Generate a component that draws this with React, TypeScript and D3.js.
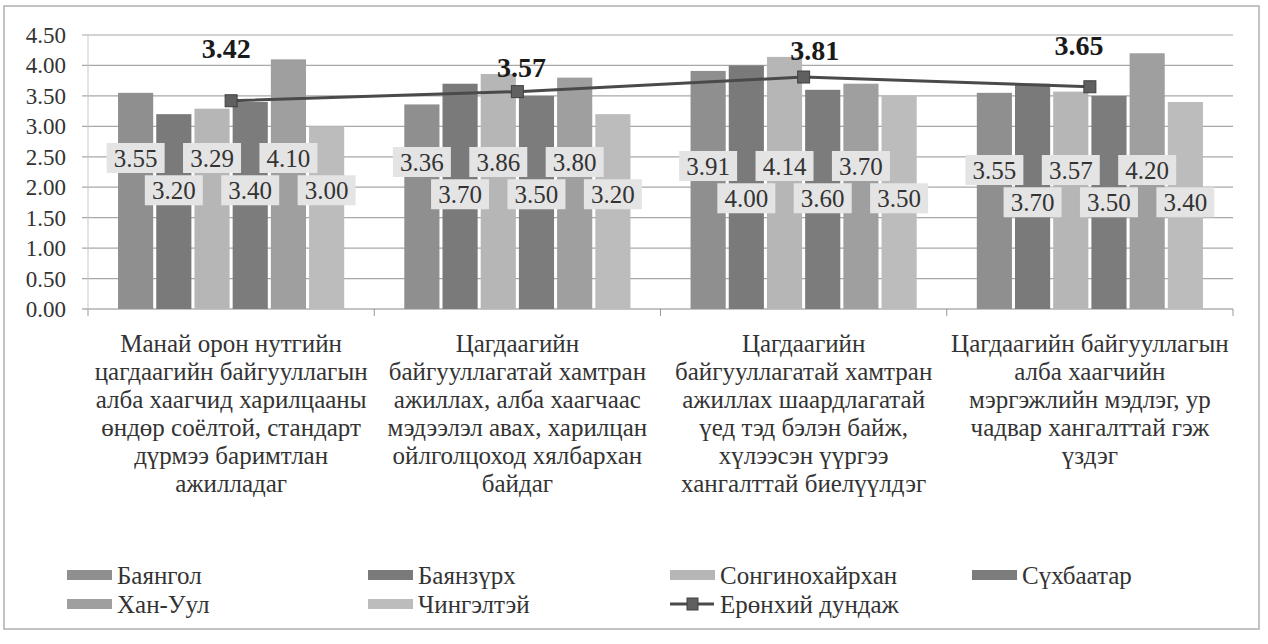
import React from "react";
import * as d3 from "d3";

const categories = [
  "Манай орон нутгийн\nцагдаагийн байгууллагын\nалба хаагчид харилцааны\nөндөр соёлтой, стандарт\nдүрмээ баримтлан\nажилладаг",
  "Цагдаагийн\nбайгууллагатай хамтран\nажиллах, алба хаагчаас\nмэдээлэл авах, харилцан\nойлголцоход хялбархан\nбайдаг",
  "Цагдаагийн\nбайгууллагатай хамтран\nажиллах шаардлагатай\nүед тэд бэлэн байж,\nхүлээсэн үүргээ\nхангалттай биелүүлдэг",
  "Цагдаагийн байгууллагын\nалба хаагчийн\nмэргэжлийн мэдлэг, ур\nчадвар хангалттай гэж\nүздэг",
];

const seriesNames = ["Баянгол", "Баянзүрх", "Сонгинохайрхан", "Сүхбаатар", "Хан-Уул", "Чингэлтэй"];
const bayangol = [3.55, 3.36, 3.91, 3.55];
const bayanzurkh = [3.2, 3.7, 4.0, 3.7];
const songinokhairkhan = [3.29, 3.86, 4.14, 3.57];
const sukhbaatar = [3.4, 3.5, 3.6, 3.5];
const khanUul = [4.1, 3.8, 3.7, 4.2];
const chingeltei = [3.0, 3.2, 3.5, 3.4];
const averageName = "Ерөнхий дундаж";
const average = [3.42, 3.57, 3.81, 3.65];
const yTickValues = [0, 0.5, 1, 1.5, 2, 2.5, 3, 3.5, 4, 4.5];

const seriesValues = [bayangol, bayanzurkh, songinokhairkhan, sukhbaatar, khanUul, chingeltei];
const seriesColors = ["#8f8f8f", "#7a7a7a", "#b6b6b6", "#7c7c7c", "#9f9f9f", "#bcbcbc"];

// layout-only tweaks for the manually placed average labels (pixels)
const avgLabelDx = [-5, 4, 11, -11];
const avgLabelDy = [-53, -24, -27, -42];

const FONT = "Liberation Serif";

export default function App() {
  const W = 1268;
  const H = 644;
  const plotLeft = 88;
  const plotRight = 1233;
  const y = d3.scaleLinear().domain([0, 4.5]).range([309, 35]);
  const x0 = d3
    .scaleBand<number>()
    .domain(d3.range(categories.length))
    .range([plotLeft, plotRight])
    .paddingInner(0.21)
    .paddingOuter(0.105);
  const x1 = d3
    .scaleBand<number>()
    .domain(d3.range(seriesNames.length))
    .range([0, x0.bandwidth()])
    .paddingInner(0.08);

  const line = d3
    .line<number>()
    .x((_, i) => (x0(i) as number) + x0.bandwidth() / 2)
    .y((d) => y(d));

  const step = x0.step();
  const legendCols = [67, 368, 670, 972];
  const legendRows = [575, 604];
  const fmt = d3.format(".2f");

  return (
    <svg
      width={W}
      height={H}
      style={{ position: "absolute", left: 0, top: 0, background: "#fff" }}
    >
      <rect x={0} y={0} width={W} height={H} fill="#fff" />
      {/* outer frame */}
      <rect x={4} y={6} width={1255} height={623} fill="none" stroke="#b0b0b0" strokeWidth={1.5} />

      {/* gridlines and y axis */}
      {yTickValues.map((t) => (
        <g key={t}>
          <line x1={82} x2={plotRight} y1={y(t)} y2={y(t)} stroke={t === 0 ? "#8a8a8a" : "#a8a8a8"} strokeWidth={1.2} />
          <text x={66} y={y(t)} dy="0.35em" textAnchor="end" fontSize={23} fill="#333" fontFamily={FONT}>
            {fmt(t)}
          </text>
        </g>
      ))}
      <line x1={plotLeft} x2={plotLeft} y1={y(0)} y2={y(4.5)} stroke="#c8c8c8" strokeWidth={1} />
      {d3.range(categories.length + 1).map((i) => {
        const xx = plotLeft + i * step;
        return <line key={i} x1={xx} x2={xx} y1={y(0)} y2={y(0) + 7} stroke="#999" strokeWidth={1} />;
      })}

      {/* bars */}
      {categories.map((_, gi) => (
        <g key={gi} transform={`translate(${x0(gi)},0)`}>
          {seriesValues.map((vals, si) => (
            <rect
              key={si}
              x={x1(si)}
              y={y(vals[gi])}
              width={x1.bandwidth()}
              height={y(0) - y(vals[gi])}
              fill={seriesColors[si]}
            />
          ))}
        </g>
      ))}

      {/* average line */}
      <path d={line(average) || ""} fill="none" stroke="#4a4a4a" strokeWidth={3} />
      {average.map((v, i) => {
        const cx = (x0(i) as number) + x0.bandwidth() / 2;
        return <rect key={i} x={cx - 6} y={y(v) - 6} width={12} height={12} fill="#606060" stroke="#404040" strokeWidth={1} />;
      })}

      {/* bar value labels */}
      {categories.map((_, gi) => (
        <g key={gi} transform={`translate(${x0(gi)},0)`}>
          {seriesValues.map((vals, si) => {
            const cx = (x1(si) as number) + x1.bandwidth() / 2;
            const cy = (si % 2 === 0 ? y(2.48) : y(1.95)) + gi * 4;
            return (
              <g key={si}>
                <rect x={cx - 29} y={cy - 15} width={58} height={30} fill="#e4e4e4" />
                <text x={cx} y={cy} dy="0.35em" textAnchor="middle" fontSize={25} fill="#333" fontFamily={FONT}>
                  {fmt(vals[gi])}
                </text>
              </g>
            );
          })}
        </g>
      ))}

      {/* average labels */}
      {average.map((v, i) => {
        const cx = (x0(i) as number) + x0.bandwidth() / 2 + avgLabelDx[i];
        return (
          <text key={i} x={cx} y={y(v) + avgLabelDy[i]} dy="0.35em" textAnchor="middle" fontSize={28} fontWeight="bold" fill="#1a1a1a" fontFamily={FONT}>
            {fmt(v)}
          </text>
        );
      })}

      {/* category labels */}
      {categories.map((c, gi) => {
        const cx = (x0(gi) as number) + x0.bandwidth() / 2;
        return (
          <text key={gi} textAnchor="middle" fontSize={25} fill="#333" fontFamily={FONT}>
            {c.split("\n").map((ln, li) => (
              <tspan key={li} x={cx} y={343 + li * 28} dy="0.35em">
                {ln}
              </tspan>
            ))}
          </text>
        );
      })}

      {/* legend */}
      {[...seriesNames, averageName].map((name, i) => {
        const col = legendCols[i % 4];
        const row = legendRows[Math.floor(i / 4)];
        const isLine = i === seriesNames.length;
        return (
          <g key={name}>
            {isLine ? (
              <g>
                <line x1={col} x2={col + 44} y1={row} y2={row} stroke="#4a4a4a" strokeWidth={3} />
                <rect x={col + 17} y={row - 6} width={11} height={12} fill="#606060" stroke="#404040" />
              </g>
            ) : (
              <rect x={col} y={row - 5} width={45} height={10} fill={seriesColors[i]} />
            )}
            <text x={col + 50} y={row} dy="0.35em" fontSize={25} fill="#333" fontFamily={FONT}>
              {name}
            </text>
          </g>
        );
      })}
    </svg>
  );
}
